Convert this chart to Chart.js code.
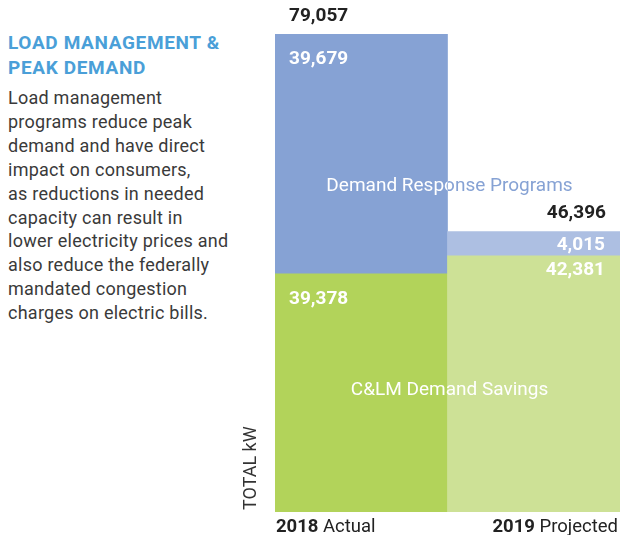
<!DOCTYPE html>
<html>
<head>
<meta charset="utf-8">
<script src="https://cdn.jsdelivr.net/npm/chart.js@4"></script>
<style>
  html, body { margin: 0; padding: 0; background: #fff; }
  #wrap { position: relative; width: 620px; height: 535px; }
  #side { position: absolute; left: 8px; top: 30px; width: 250px; font-family: Roboto, sans-serif; }
  #side h2 { margin: 0; font-size: 19px; line-height: 25px; font-weight: 700; color: #4a9fd8; letter-spacing: 0.65px; }
  #side p { margin: 6px 0 0 0; font-size: 18px; line-height: 23.9px; color: #3a3a3a; letter-spacing: 0.25px; }
  canvas { position: absolute; left: 0; top: 0; }
</style>
</head>
<body>
<div id="wrap">
  <div id="side">
    <h2>LOAD MANAGEMENT &amp;<br>PEAK DEMAND</h2>
    <p>Load management<br>programs reduce peak<br>demand and have direct<br>impact on consumers,<br>as reductions in needed<br>capacity can result in<br>lower electricity prices and<br>also reduce the federally<br>mandated congestion<br>charges on electric bills.</p>
  </div>
  <canvas id="peakDemand" width="620" height="535"></canvas>
</div>
<script>
const years = ['2018', '2019'];
const yearNotes = ['Actual', 'Projected'];
const savings = [39378, 42381];
const response = [39679, 4015];
const totals = [79057, 46396];

const fmt = v => v.toLocaleString('en-US');

const labelPlugin = {
  id: 'labelPlugin',
  afterDatasetsDraw(chart) {
    const ctx = chart.ctx;
    const area = chart.chartArea;
    const cx = (area.left + area.right) / 2 + 2;
    const green = chart.getDatasetMeta(0).data;
    const blue = chart.getDatasetMeta(1).data;
    ctx.save();
    ctx.textBaseline = 'middle';

    // segment values
    ctx.font = 'bold 19px Roboto, sans-serif';
    ctx.fillStyle = '#ffffff';
    [green, blue].forEach((bars, d) => {
      const vals = d === 0 ? savings : response;
      bars.forEach((bar, i) => {
        const left = bar.x - bar.width / 2;
        const right = bar.x + bar.width / 2;
        if (i === 0) {
          ctx.textAlign = 'left';
          ctx.fillText(fmt(vals[i]), left + 14, bar.y + 25);
        } else {
          ctx.textAlign = 'right';
          ctx.fillText(fmt(vals[i]), right - 15, bar.y + 14);
        }
      });
    });

    // totals
    ctx.fillStyle = '#222222';
    blue.forEach((bar, i) => {
      const left = bar.x - bar.width / 2;
      const right = bar.x + bar.width / 2;
      if (i === 0) {
        ctx.textAlign = 'left';
        ctx.fillText(fmt(totals[i]), left + 14, bar.y - 18);
      } else {
        ctx.textAlign = 'right';
        ctx.fillText(fmt(totals[i]), right - 14, bar.y - 18);
      }
    });

    // series names
    ctx.font = '19px Roboto, sans-serif';
    ctx.textAlign = 'center';
    ctx.fillStyle = '#ffffff';
    ctx.fillText('C\u0026LM Demand Savings', cx, 390);

    ctx.fillStyle = '#86a2d4';
    ctx.fillText('Demand Response Programs', cx, 186);
    const b0 = blue[0];
    ctx.save();
    ctx.beginPath();
    ctx.rect(b0.x - b0.width / 2, b0.y, b0.width, b0.base - b0.y);
    ctx.clip();
    ctx.fillStyle = '#ffffff';
    ctx.fillText('Demand Response Programs', cx, 186);
    ctx.restore();

    // category labels
    ctx.fillStyle = '#222222';
    green.forEach((bar, i) => {
      const left = bar.x - bar.width / 2;
      const right = bar.x + bar.width / 2;
      ctx.font = 'bold 18.5px Roboto, sans-serif';
      const yw = ctx.measureText(years[i] + ' ').width;
      ctx.font = '18.5px Roboto, sans-serif';
      const nw = ctx.measureText(yearNotes[i]).width;
      const x0 = i === 0 ? left + 1 : right - 2 - yw - nw;
      ctx.textAlign = 'left';
      ctx.font = 'bold 18.5px Roboto, sans-serif';
      ctx.fillText(years[i] + ' ', x0, 527);
      ctx.font = '18.5px Roboto, sans-serif';
      ctx.fillText(yearNotes[i], x0 + yw, 527);
    });

    // y axis title
    ctx.translate(251, 510);
    ctx.rotate(-Math.PI / 2);
    ctx.textAlign = 'left';
    ctx.font = '18px Roboto, sans-serif';
    ctx.fillStyle = '#333333';
    ctx.fillText('TOTAL kW', 0, 0);
    ctx.restore();
  }
};

new Chart(document.getElementById('peakDemand'), {
  type: 'bar',
  data: {
    labels: years,
    datasets: [
      {
        label: 'C&LM Demand Savings',
        data: savings,
        backgroundColor: ['#b2d35a', '#cde196'],
        borderWidth: 0
      },
      {
        label: 'Demand Response Programs',
        data: response,
        backgroundColor: ['#86a2d4', '#adbfe2'],
        borderWidth: 0
      }
    ]
  },
  options: {
    responsive: false,
    animation: false,
    layout: { padding: { left: 275, right: 0, top: 34, bottom: 23 } },
    datasets: { bar: { categoryPercentage: 1, barPercentage: 1 } },
    plugins: { legend: { display: false }, tooltip: { enabled: false } },
    scales: {
      x: { stacked: true, display: false },
      y: { stacked: true, display: false, min: 0, max: totals[0] }
    }
  },
  plugins: [labelPlugin]
});
</script>
</body>
</html>
